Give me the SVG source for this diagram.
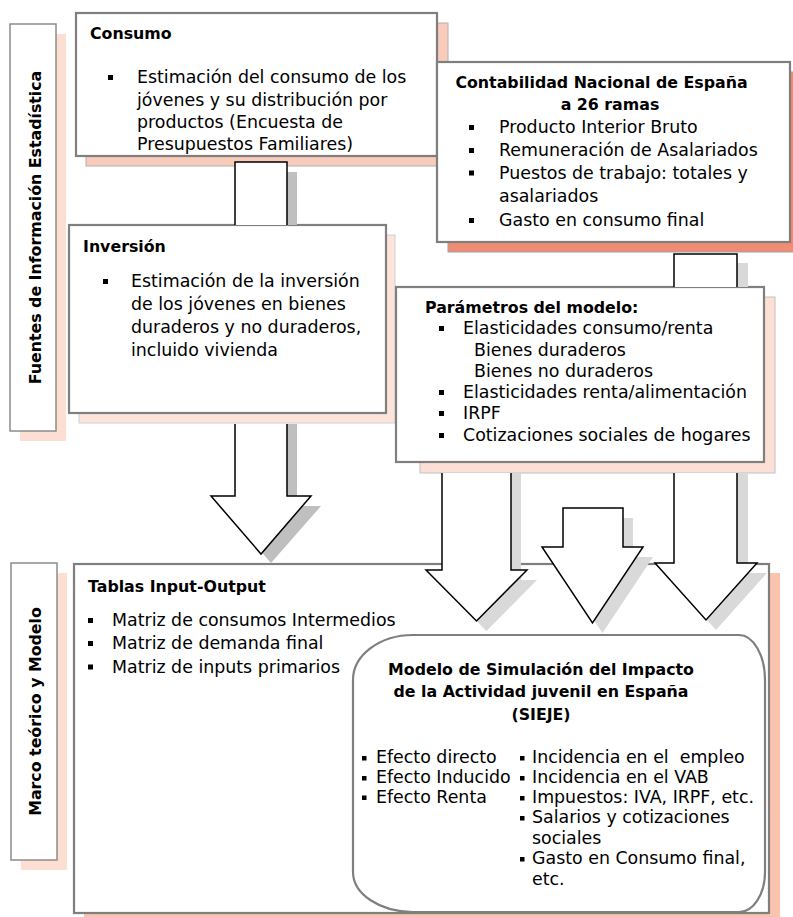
<svg xmlns="http://www.w3.org/2000/svg" xmlns:xlink="http://www.w3.org/1999/xlink" width="793" height="917" viewBox="0 0 793 917">
<defs>
<style>
.t{font-family:"DejaVu Sans",sans-serif;font-size:17.4px;fill:#000}
.b{font-family:"DejaVu Sans",sans-serif;font-weight:bold;font-size:15.8px;fill:#000}
.m{text-anchor:middle}
.box{fill:#fff;stroke:#7f7f7f;stroke-width:2.2}
.lab{fill:#fff;stroke:#8c8c8c;stroke-width:1.5}
.arr{fill:#fff;stroke:#000;stroke-width:1.5}
.sd1{fill:#bfbfbf}
.sd2{fill:#d9d9d9}
</style>
<rect id="bl" width="5" height="5" fill="#000"/>
<rect id="bs" width="4.5" height="4.5" fill="#000"/>
</defs>
<rect width="793" height="917" fill="#fff"/>

<g id="label-fuentes">
<rect x="20" y="34" width="46" height="407" fill="#fcded3"/>
<rect x="10" y="24" width="46" height="407" class="lab"/>
<text class="b m" font-size="15.5" transform="translate(41,227.5) rotate(-90)">Fuentes de Información Estadística</text>
</g>

<g id="label-marco">
<rect x="21" y="573" width="46" height="297" fill="#fcded3"/>
<rect x="11" y="563" width="46" height="297" class="lab"/>
<text class="b m" transform="translate(41,711.5) rotate(-90)">Marco teórico y Modelo</text>
</g>

<g id="consumo">
<rect x="86" y="23" width="362" height="143" fill="#f9cbba" stroke="#b0b0b0" stroke-width="1"/>
<rect x="76" y="13" width="361" height="143" class="box"/>
<text class="b" x="90" y="39">Consumo</text>
<use xlink:href="#bl" x="108" y="75"/>
<text class="t" x="137" y="83">Estimación del consumo de los</text>
<text class="t" x="137" y="105.5">jóvenes y su distribución por</text>
<text class="t" x="137" y="127.5">productos (Encuesta de</text>
<text class="t" x="137" y="149.5">Presupuestos Familiares)</text>
</g>

<g id="contabilidad">
<rect x="448" y="72" width="352" height="180" fill="#f08c74" stroke="#a0a0a0" stroke-width="1"/>
<rect x="437" y="62" width="353" height="180" class="box"/>
<text class="b m" x="601.5" y="88">Contabilidad Nacional de España</text>
<text class="b m" x="610" y="110">a 26 ramas</text>
<use xlink:href="#bl" x="469" y="125"/>
<use xlink:href="#bl" x="469" y="148"/>
<use xlink:href="#bl" x="469" y="170.5"/>
<use xlink:href="#bl" x="469" y="218"/>
<text class="t" x="499" y="133">Producto Interior Bruto</text>
<text class="t" x="499" y="156">Remuneración de Asalariados</text>
<text class="t" x="499" y="178.5">Puestos de trabajo: totales y</text>
<text class="t" x="499" y="202">asalariados</text>
<text class="t" x="499" y="226">Gasto en consumo final</text>
</g>

<g id="inversion">
<rect x="79" y="235" width="316" height="188" fill="#fce4da" stroke="#d0d0d0" stroke-width="1"/>
<rect x="69" y="225" width="317" height="188" class="box"/>
<text class="b" x="83" y="252">Inversión</text>
<use xlink:href="#bl" x="103" y="279"/>
<text class="t" x="131" y="287">Estimación de la inversión</text>
<text class="t" x="131" y="310">de los jóvenes en bienes</text>
<text class="t" x="131" y="333">duraderos y no duraderos,</text>
<text class="t" x="131" y="356">incluido vivienda</text>
</g>

<g id="parametros">
<rect x="420" y="297" width="355" height="176" fill="#fde0d5" stroke="#c0c0c0" stroke-width="1"/>
<rect x="396" y="287" width="368" height="175" class="box"/>
<text class="b" x="425" y="313">Parámetros del modelo:</text>
<use xlink:href="#bl" x="439" y="326"/>
<use xlink:href="#bl" x="439" y="390"/>
<use xlink:href="#bl" x="439" y="411"/>
<use xlink:href="#bl" x="439" y="433"/>
<text class="t" x="463" y="334">Elasticidades consumo/renta</text>
<text class="t" x="474" y="356">Bienes duraderos</text>
<text class="t" x="474" y="377">Bienes no duraderos</text>
<text class="t" x="463" y="398">Elasticidades renta/alimentación</text>
<text class="t" x="463" y="419">IRPF</text>
<text class="t" x="463" y="441">Cotizaciones sociales de hogares</text>
</g>

<g id="tablas">
<rect x="84" y="573" width="696" height="350" fill="#f9c3ae"/>
<rect x="74" y="564" width="695" height="349" class="box"/>
<text class="b" x="88" y="592">Tablas Input-Output</text>
<use xlink:href="#bl" x="88" y="618"/>
<use xlink:href="#bl" x="88" y="641"/>
<use xlink:href="#bl" x="88" y="664.5"/>
<text class="t" x="112" y="626">Matriz de consumos Intermedios</text>
<text class="t" x="112" y="649">Matriz de demanda final</text>
<text class="t" x="112" y="672.5">Matriz de inputs primarios</text>
</g>

<g id="sieje">
<path class="box" d="M413,635 H739 A26,45 0 0 1 765,680 V872 A26,40 0 0 1 739,912 H413 A60,40 0 0 1 353,872 V680 A60,45 0 0 1 413,635 Z"/>
<text class="b m" x="541" y="675">Modelo de Simulación del Impacto</text>
<text class="b m" x="541" y="697">de la Actividad juvenil en España</text>
<text class="b m" x="541" y="720">(SIEJE)</text>
<use xlink:href="#bs" x="362" y="756"/>
<use xlink:href="#bs" x="362" y="776"/>
<use xlink:href="#bs" x="362" y="795.5"/>
<text class="t" x="376" y="763">Efecto directo</text>
<text class="t" x="376" y="783">Efecto Inducido</text>
<text class="t" x="376" y="802.5">Efecto Renta</text>
<use xlink:href="#bs" x="520" y="756"/>
<use xlink:href="#bs" x="520" y="776"/>
<use xlink:href="#bs" x="520" y="796"/>
<use xlink:href="#bs" x="520" y="816"/>
<use xlink:href="#bs" x="520" y="857"/>
<text class="t" x="532" y="763" xml:space="preserve" style="white-space:pre">Incidencia en el  empleo</text>
<text class="t" x="532" y="783">Incidencia en el VAB</text>
<text class="t" x="532" y="803">Impuestos: IVA, IRPF, etc.</text>
<text class="t" x="532" y="823">Salarios y cotizaciones</text>
<text class="t" x="532" y="843.5">sociales</text>
<text class="t" x="532" y="864">Gasto en Consumo final,</text>
<text class="t" x="532" y="884.5">etc.</text>
</g>

<g id="connectors">
<rect class="sd1" x="287" y="172" width="10" height="53"/>
<path class="arr" d="M235,225 V162 H287 V225"/>
<rect class="sd2" x="737" y="263" width="11" height="24"/>
<path class="arr" d="M674,287 V254 H737 V287"/>
<path class="sd1" d="M245,424 H297 V506 H321 L271,563 L221,506 H245 Z"/>
<path class="arr" d="M235,424 V496 H211 L261,554 L311,496 H287 V424"/>
<path class="sd2" d="M452,473 H521 V580 H537 L486.5,631 L436,580 H452 Z"/>
<path class="arr" d="M442,473 V570 H426 L476.5,621 L527,570 H511 V473"/>
<path class="sd2" d="M573,518 H633 V557 H653 L602.5,633 L552,557 H573 Z"/>
<path class="arr" d="M563,508 H623 V547 H643 L592.5,623 L542,547 H563 Z"/>
<path class="sd2" d="M684,473 H748 V573 H767 L716,630 L665,573 H684 Z"/>
<path class="arr" d="M674,473 V563 H655 L706,620 L757,563 H737 V473"/>
</g>
</svg>
